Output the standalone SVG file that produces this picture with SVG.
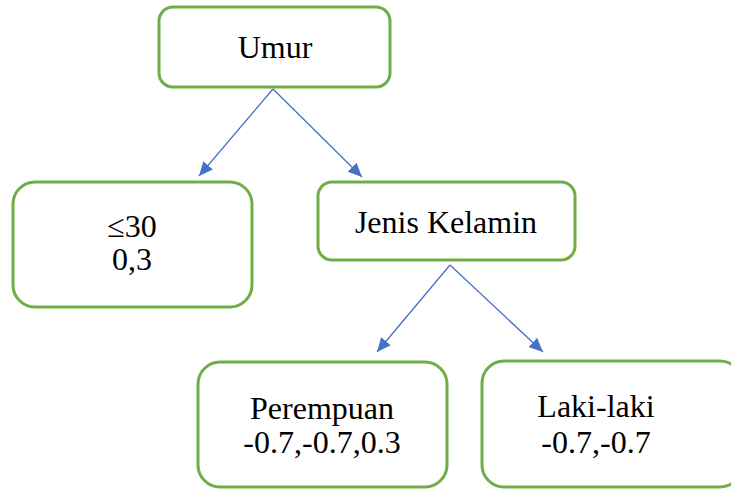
<svg xmlns="http://www.w3.org/2000/svg" width="731" height="489" viewBox="0 0 731 489">
<style>
.box{fill:#fff;stroke:#70AD47;stroke-width:3}
.t{font-family:'Liberation Serif','DejaVu Serif',serif;font-size:32px;fill:#000;text-anchor:middle}
.c{stroke:#4472C4;stroke-width:1.3;fill:none;marker-end:url(#ah)}
</style>
<defs>
<marker id="ah" viewBox="0 0 10 10" refX="10" refY="5" markerWidth="14" markerHeight="14" orient="auto" markerUnits="userSpaceOnUse"><path d="M0,0.5 L10,5 L0,9.5 z" fill="#4472C4"/></marker>
</defs>
<g id="connectors">
<line class="c" x1="273" y1="89" x2="199" y2="176"/>
<line class="c" x1="273" y1="89" x2="362" y2="177"/>
<line class="c" x1="450" y1="265" x2="377" y2="352"/>
<line class="c" x1="450" y1="265" x2="543" y2="352"/>
</g>
<g id="umur">
<rect class="box" x="159" y="7" width="231" height="80" rx="14"/>
<text class="t" x="275" y="58">Umur</text>
</g>
<g id="le30">
<rect class="box" x="13" y="182" width="239" height="125" rx="22"/>
<text class="t" x="132" y="237">≤30</text>
<text class="t" x="132" y="270">0,3</text>
</g>
<g id="jenis">
<rect class="box" x="318" y="182" width="257" height="78" rx="14"/>
<text class="t" x="446" y="233">Jenis Kelamin</text>
</g>
<g id="perempuan">
<rect class="box" x="198" y="362" width="249" height="125" rx="22"/>
<text class="t" x="322" y="419">Perempuan</text>
<text class="t" x="322" y="453">-0.7,-0.7,0.3</text>
</g>
<g id="laki">
<rect class="box" x="482" y="361" width="260" height="126" rx="22"/>
<text class="t" x="596" y="417">Laki-laki</text>
<text class="t" x="596" y="453">-0.7,-0.7</text>
</g>
</svg>
